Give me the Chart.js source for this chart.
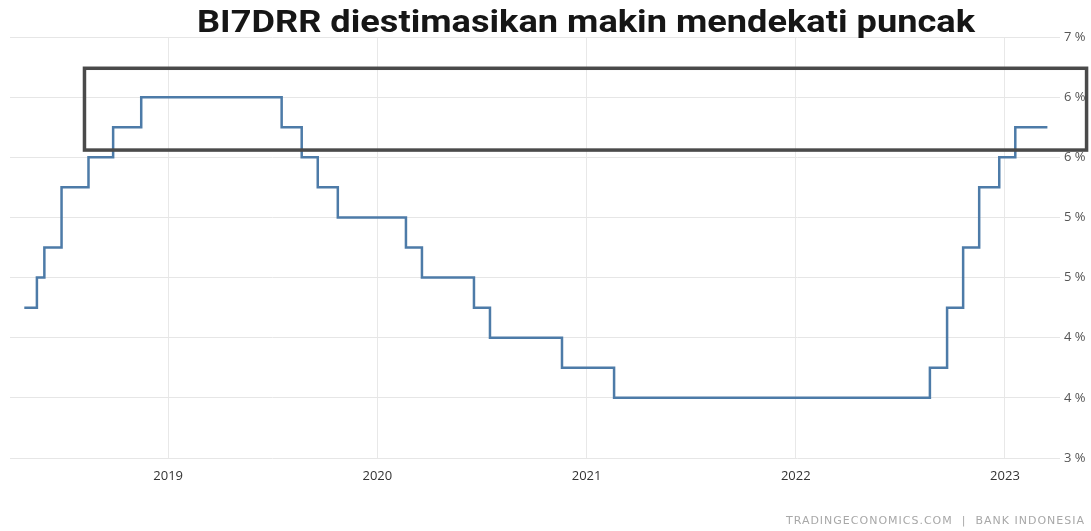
<!DOCTYPE html>
<html>
<head>
<meta charset="utf-8">
<script src="https://cdn.jsdelivr.net/npm/chart.js@4.4.1/dist/chart.umd.min.js"></script>
<style>
  html, body { margin: 0; padding: 0; background: #fff; }
  #wrap { width: 1091px; height: 531px; position: relative; }
</style>
</head>
<body>
<div id="wrap"><canvas id="rateChart"></canvas></div>
<script>
// BI 7-Day Reverse Repo Rate: tanggal perubahan dan level suku bunga (%)
const rateDates = [
  '2018-04-25', '2018-05-17', '2018-05-30', '2018-06-29', '2018-08-15',
  '2018-09-27', '2018-11-15', '2019-07-18', '2019-08-22', '2019-09-19',
  '2019-10-24', '2020-02-20', '2020-03-19', '2020-06-18', '2020-07-16',
  '2020-11-19', '2021-02-18', '2022-08-23', '2022-09-22', '2022-10-20',
  '2022-11-17', '2022-12-22', '2023-01-19', '2023-03-16'
];
const rateValues = [
  4.25, 4.5, 4.75, 5.25, 5.5,
  5.75, 6.0, 5.75, 5.5, 5.25,
  5.0, 4.75, 4.5, 4.25, 4.0,
  3.75, 3.5, 3.75, 4.25, 4.75,
  5.25, 5.5, 5.75, 5.75
];

const yearTicks = [2019, 2020, 2021, 2022, 2023];
const yTickValues = [3, 3.5, 4, 4.5, 5, 5.5, 6, 6.5];
const yTickLabels = ['3 %', '4 %', '4 %', '5 %', '5 %', '6 %', '6 %', '7 %'];

const titleText = 'BI7DRR diestimasikan makin mendekati puncak';
const sourceText = 'TRADINGECONOMICS.COM  |  BANK INDONESIA';

// kotak sorotan di sekitar level puncak (satuan sumbu)
const highlightBox = { xFrom: 2018.6, xTo: 2023.39, yFrom: 5.56, yTo: 6.24 };

// tanggal -> tahun desimal untuk sumbu linear
function toYearFrac(s) {
  const d = new Date(s + 'T00:00:00Z');
  const y = d.getUTCFullYear();
  const start = Date.UTC(y, 0, 1);
  const end = Date.UTC(y + 1, 0, 1);
  return y + (d.getTime() - start) / (end - start);
}

const points = rateDates.map((s, i) => ({ x: toYearFrac(s), y: rateValues[i] }));

const decorPlugin = {
  id: 'decor',
  afterDraw(chart) {
    const { ctx, scales } = chart;
    const xs = scales.x, ys = scales.y;
    ctx.save();

    // kotak sorotan
    const x1 = xs.getPixelForValue(highlightBox.xFrom);
    const x2 = xs.getPixelForValue(highlightBox.xTo);
    const y1 = ys.getPixelForValue(highlightBox.yTo);
    const y2 = ys.getPixelForValue(highlightBox.yFrom);
    ctx.strokeStyle = '#4a4a4a';
    ctx.lineWidth = 3.5;
    ctx.strokeRect(x1, y1, x2 - x1, y2 - y1);

    // judul, dilebarkan agar selebar 778px
    ctx.fillStyle = '#161616';
    ctx.font = 'bold 31px Roboto';
    ctx.textAlign = 'center';
    ctx.textBaseline = 'alphabetic';
    const w = ctx.measureText(titleText).width;
    ctx.save();
    ctx.translate(586, 32);
    ctx.scale(778 / w, 1);
    ctx.fillText(titleText, 0, 0);
    ctx.restore();

    // sumber
    ctx.fillStyle = '#a8a8a8';
    ctx.font = '11px "DejaVu Sans"';
    ctx.letterSpacing = '1px';
    ctx.textAlign = 'right';
    ctx.fillText(sourceText, 1085, 524);
    ctx.restore();
  }
};

new Chart(document.getElementById('rateChart'), {
  type: 'line',
  data: {
    datasets: [{
      data: points,
      borderColor: '#4d7ba8',
      borderWidth: 2.5,
      pointRadius: 0,
      stepped: true,
      fill: false
    }]
  },
  options: {
    responsive: true,
    maintainAspectRatio: false,
    animation: false,
    layout: { padding: { left: 10, top: 37, right: 0, bottom: 0 } },
    plugins: { legend: { display: false }, tooltip: { enabled: false } },
    scales: {
      x: {
        type: 'linear',
        min: 2018.244,
        max: 2023.263,
        afterBuildTicks(scale) { scale.ticks = yearTicks.map(v => ({ value: v })); },
        afterFit(scale) { scale.height = 73; },
        grid: { color: '#e8e8e8', lineWidth: 1, drawTicks: false },
        border: { display: false },
        ticks: {
          padding: 10,
          color: '#333',
          font: { family: 'Open Sans', size: 13 },
          callback: v => String(v)
        }
      },
      y: {
        position: 'right',
        min: 3,
        max: 6.5,
        afterBuildTicks(scale) { scale.ticks = yTickValues.map(v => ({ value: v })); },
        afterFit(scale) { scale.width = 31; },
        grid: { color: '#e6e6e6', lineWidth: 1, drawTicks: false },
        border: { display: false },
        ticks: {
          padding: 4,
          color: '#555',
          font: { family: 'Open Sans', size: 13 },
          callback: (v, i) => yTickLabels[i]
        }
      }
    }
  },
  plugins: [decorPlugin]
});
</script>
</body>
</html>
